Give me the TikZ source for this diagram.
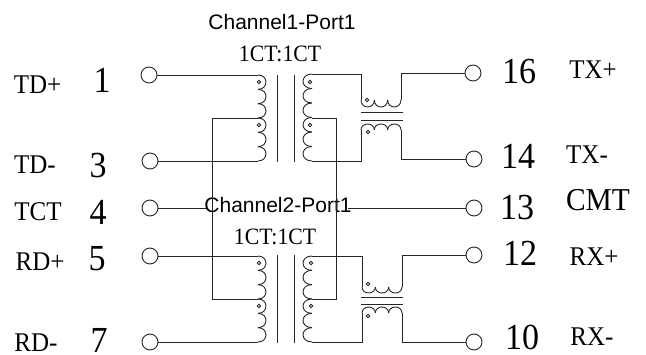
\documentclass[tikz,border=0pt]{standalone}
\usepackage{graphicx}
\usepackage{fontspec}
\setmainfont{Liberation Serif}
\newfontfamily\arialf{Liberation Sans}
\newcommand{\tallbox}[1]{\scalebox{1}[1.08]{#1}}
\newcommand{\coilV}[5]{\foreach \i in {1,...,#4}{\draw[wire] ({#1},{#2+(\i-1)*#3}) .. controls ({#1+1.33*(#5)},{#2+(\i-1)*#3}) and ({#1+1.33*(#5)},{#2+\i*#3}) .. ({#1},{#2+\i*#3});}}
\newcommand{\coilH}[5]{\foreach \i in {1,...,#4}{\draw[wire] ({#1+(\i-1)*#3},{#2}) .. controls ({#1+(\i-1)*#3},{#2+1.33*(#5)}) and ({#1+\i*#3},{#2+1.33*(#5)}) .. ({#1+\i*#3},{#2});}}
\tikzset{
  wire/.style={line width=0.9pt,black!85},
  pad/.style={draw,circle,line width=0.9pt,black!85,minimum size=16pt,inner sep=0pt},
  phase/.style={draw,circle,line width=0.8pt,black!85,minimum size=3.6pt,inner sep=0pt},
  pin/.style={inner sep=0pt,font=\fontsize{34}{34}\selectfont},
  sig/.style={inner sep=0pt,font=\fontsize{25}{25}\selectfont},
  title/.style={inner sep=0pt,font=\arialf\fontsize{21}{21}\selectfont},
  ratio/.style={inner sep=0pt,font=\fontsize{21.7}{22}\selectfont}
}
\begin{document}
\begin{tikzpicture}[x=1pt,y=-1pt]
\useasboundingbox (0,0) rectangle (646,354);
% pads
\node[pad] (c1) at (149,75) {};
\node[pad] (c3) at (150,161) {};
\node[pad] (c4) at (150,208) {};
\node[pad] (c5) at (150,256) {};
\node[pad] (c7) at (150,342) {};
\node[pad] (c16) at (473,73) {};
\node[pad] (c14) at (474,159) {};
\node[pad] (c13) at (474,208) {};
\node[pad] (c12) at (474,255) {};
\node[pad] (c10) at (474,342) {};
% centre line and its label
\draw[wire] (c4) -- (c13);
\node[title,fill=white,inner xsep=-4pt] (ch2) at (278,205) {Channel2-Port1};
\node[ratio,fill=white] (r2) at (275,237) {\tallbox{1CT:1CT}};
% corner coordinates, upper block
\coordinate (a1) at (258,75);
\coordinate (a2) at (258,118);
\coordinate (a3) at (258,161);
\coordinate (b1) at (312,74);
\coordinate (b2) at (312,118);
\coordinate (b3) at (312,161);
\coordinate (d1) at (361,74);
\coordinate (d2) at (361,100);
\coordinate (d3) at (401,100);
\coordinate (d4) at (401,73);
\coordinate (e1) at (361,161);
\coordinate (e2) at (361,130);
\coordinate (e3) at (401,130);
\coordinate (e4) at (401,159);
% lower block
\coordinate (f1) at (258,256);
\coordinate (f2) at (258,299);
\coordinate (f3) at (258,342);
\coordinate (g1) at (312,256);
\coordinate (g2) at (312,299);
\coordinate (g3) at (312,342);
\coordinate (h1) at (362,256);
\coordinate (h2) at (362,287);
\coordinate (h3) at (402,287);
\coordinate (h4) at (402,255);
\coordinate (k1) at (362,342);
\coordinate (k2) at (362,313);
\coordinate (k3) at (402,313);
\coordinate (k4) at (402,342);
% tap frames
\coordinate (t1) at (212,118);
\coordinate (t2) at (212,299);
\coordinate (t3) at (336,118);
\coordinate (t4) at (336,299);
\draw[wire] (a2) -- (t1) -- (t2) -- (f2);
\draw[wire] (b2) -- (t3) -- (t4) -- (g2);
% leads
\draw[wire] (c1) -- (a1);
\draw[wire] (c3) -- (a3);
\draw[wire] (c5) -- (f1);
\draw[wire] (c7) -- (f3);
\draw[wire] (b1) -- (d1) -- (d2);
\draw[wire] (c16) -- (d4) -- (d3);
\draw[wire] (b3) -- (e1) -- (e2);
\draw[wire] (c14) -- (e4) -- (e3);
\draw[wire] (g1) -- (h1) -- (h2);
\draw[wire] (c12) -- (h4) -- (h3);
\draw[wire] (g3) -- (k1) -- (k2);
\draw[wire] (c10) -- (k4) -- (k3);
% coils
\coilV{258}{75}{14.33}{6}{8}
\coilV{312}{74}{14.5}{6}{-9}
\coilH{361}{100}{13.33}{3}{7}
\coilH{361}{130}{13.33}{3}{-6}
\coilV{258}{256}{14.33}{6}{8}
\coilV{312}{256}{14.33}{6}{-9}
\coilH{362}{287}{13.33}{3}{6}
\coilH{362}{313}{13.33}{3}{-6}
% cores
\draw[wire] (277,75) -- (277,162);
\draw[wire] (294,75) -- (294,162);
\draw[wire] (361,112) -- (403,112);
\draw[wire] (361,120) -- (403,120);
\draw[wire] (277,255) -- (277,343);
\draw[wire] (294,255) -- (294,343);
\draw[wire] (361,297) -- (403,297);
\draw[wire] (361,304) -- (403,304);
% phase dots
\node[phase] (p1) at (259,82) {};
\node[phase] (p2) at (259,125) {};
\node[phase] (p3) at (310,82) {};
\node[phase] (p4) at (310,125) {};
\node[phase] (p5) at (367,100) {};
\node[phase] (p6) at (368,132) {};
\node[phase] (p7) at (259,263) {};
\node[phase] (p8) at (259,306) {};
\node[phase] (p9) at (311,263) {};
\node[phase] (p10) at (311,306) {};
\node[phase] (p11) at (368,284) {};
\node[phase] (p12) at (368,316) {};
% titles
\node[title] (ch1) at (282,22) {Channel1-Port1};
\node[ratio] (r1) at (280,54) {\tallbox{1CT:1CT}};
% pin numbers
\node[pin] (n1) at (102,80) {\tallbox{1}};
\node[pin] (n3) at (98,166) {\tallbox{3}};
\node[pin] (n4) at (98,212) {\tallbox{4}};
\node[pin] (n5) at (97,259) {\tallbox{5}};
\node[pin] (n7) at (99,340.5) {\tallbox{7}};
\node[pin] (n16) at (519,72) {\tallbox{16}};
\node[pin] (n14) at (518,156) {\tallbox{14}};
\node[pin] (n13) at (517,208) {\tallbox{13}};
\node[pin] (n12) at (520,253) {\tallbox{12}};
\node[pin] (n10) at (522,337) {\tallbox{10}};
% signal names
\node[sig] (s1) at (37.5,85) {\tallbox{TD+}};
\node[sig] (s3) at (35,165) {\tallbox{TD-}};
\node[sig] (s4) at (38,212) {\tallbox{TCT}};
\node[sig] (s5) at (40,262) {\tallbox{RD+}};
\node[sig] (s7) at (36,343) {\tallbox{RD-}};
\node[sig] (s16) at (593,70) {\tallbox{TX+}};
\node[sig] (s14) at (587,155) {\tallbox{TX-}};
\node[sig,font=\fontsize{29.5}{30}\selectfont] (s13) at (598,200) {\tallbox{CMT}};
\node[sig] (s12) at (594,257) {\tallbox{RX+}};
\node[sig] (s10) at (592,337) {\tallbox{RX-}};
\end{tikzpicture}
\end{document}
